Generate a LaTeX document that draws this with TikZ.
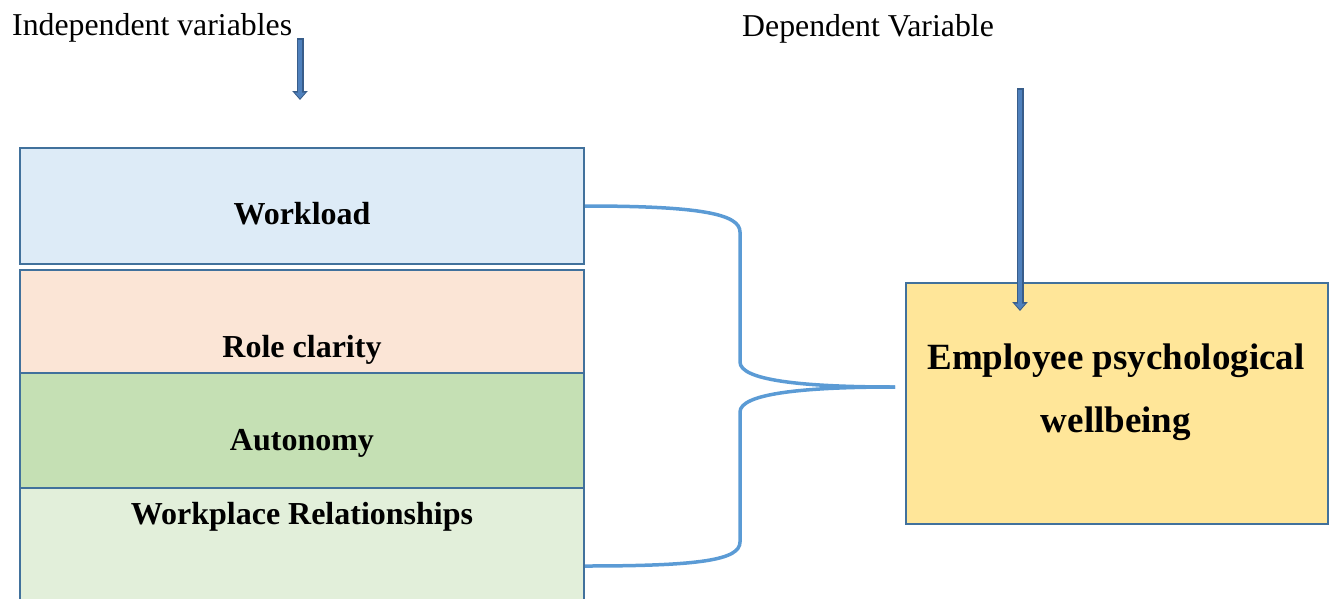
\documentclass[tikz,border=0pt]{standalone}
\usepackage{fontspec}
\setmainfont{Liberation Serif}
\usetikzlibrary{arrows.meta}

\definecolor{edgeblue}{HTML}{41719C}
\definecolor{braceblue}{HTML}{5B9BD5}
\definecolor{arrowfill}{HTML}{4F81BD}
\definecolor{arrowedge}{HTML}{385D8A}
\definecolor{workfill}{HTML}{DDEBF7}
\definecolor{rolefill}{HTML}{FBE5D6}
\definecolor{autofill}{HTML}{C5E0B4}
\definecolor{relfill}{HTML}{E2EFDA}
\definecolor{wellfill}{HTML}{FFE699}

\begin{document}
\begin{tikzpicture}[x=1pt,y=-1pt,
    varbox/.style={draw=edgeblue,line width=2pt,minimum width=564pt,inner sep=0pt},
    boxlabel/.style={font=\fontsize{32}{38}\selectfont\bfseries,inner sep=0pt,anchor=base},
    toplabel/.style={font=\fontsize{31.8}{37}\selectfont,inner sep=0pt,anchor=base west},
    brace/.style={draw=braceblue,line width=3.5pt},
    blockarrow/.style={draw=arrowedge,line width=7pt,-{Triangle[width=15pt,length=9pt]},
      postaction={draw=arrowfill,line width=4pt,shorten <=1.5pt,shorten >=1.5pt,
        -{Triangle[width=10pt,length=6pt]}}}]

      \useasboundingbox (0,0) rectangle (1331,598);

      %%%%%%%%%%%%%%%%%%%%%%%%%%%%%%%%%%%%%%%%%%%%%%%%%%%%%%%%%%%%%%%%%%%%%%%%%%%
      %%%%  Headings and arrows
      \node[toplabel] (indep) at (12,35) {Independent variables};
      \node[toplabel] (dep) at (742,36) {Dependent Variable};

      \coordinate (indeptop) at (300,38);
      \coordinate (independ) at (300,100);
      \coordinate (deptop) at (1020,88);
      \coordinate (depend) at (1020,311);

      %%%%%%%%%%%%%%%%%%%%%%%%%%%%%%%%%%%%%%%%%%%%%%%%%%%%%%%%%%%%%%%%%%%%%%%%%%%
      %%%%  Independent variables
      \node[varbox,fill=workfill,minimum height=116pt] (workload) at (302,206) {};
      \node[varbox,fill=rolefill,minimum height=103pt] (roleclar) at (302,321.5) {};
      \node[varbox,fill=autofill,minimum height=115pt] (autonomy) at (302,430.5) {};
      \node[varbox,fill=relfill,minimum height=156pt] (relation) at (302,566) {};

      \node[boxlabel] (worktxt) at (302,224) {Workload};
      \node[boxlabel] (roletxt) at (302,357) {Role clarity};
      \node[boxlabel] (autotxt) at (302,450) {Autonomy};
      \node[boxlabel] (reltxt) at (302,524) {Workplace Relationships};

      %%%%%%%%%%%%%%%%%%%%%%%%%%%%%%%%%%%%%%%%%%%%%%%%%%%%%%%%%%%%%%%%%%%%%%%%%%%
      %%%%  Dependent variable
      \node[varbox,fill=wellfill,minimum width=422pt,minimum height=241pt] (wellbeing)
        at (1117,403.5) {};
      \node[boxlabel,font=\fontsize{37}{62.5}\selectfont\bfseries,align=center,anchor=base]
        (welltxt) at (1116,432) {Employee psychological\\wellbeing};

      %%%%%%%%%%%%%%%%%%%%%%%%%%%%%%%%%%%%%%%%%%%%%%%%%%%%%%%%%%%%%%%%%%%%%%%%%%%
      %%%%  Brace
      \coordinate (tip) at (895,387);
      \draw[brace] (workload.east) .. controls (700,206) and (740,214) .. (740,232)
        -- (740,362) .. controls (740,380) and (800,387) .. (tip);
      \draw[brace] (relation.east) .. controls (700,566) and (740,560) .. (740,542)
        -- (740,412) .. controls (740,394) and (800,387) .. (tip);

      \draw[blockarrow] (indeptop) -- (independ);
      \draw[blockarrow] (deptop) -- (depend);
    \end{tikzpicture}
\end{document}
